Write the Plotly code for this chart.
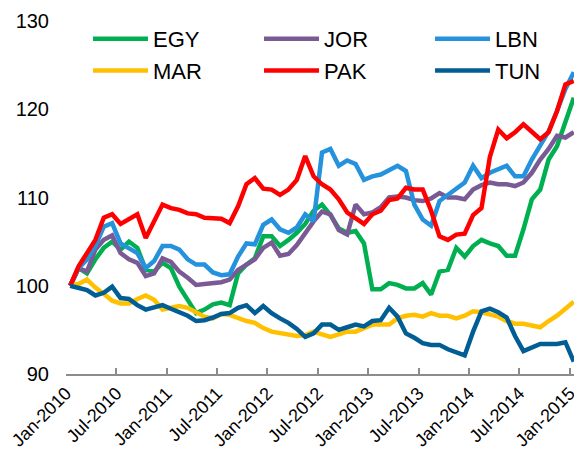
import plotly.graph_objects as go
import pandas as pd

months = [d.strftime("%b-%Y") for d in pd.date_range("2010-01-01", "2015-01-01", freq="MS")]
tick_labels = ["Jan-2010", "Jul-2010", "Jan-2011", "Jul-2011", "Jan-2012", "Jul-2012",
               "Jan-2013", "Jul-2013", "Jan-2014", "Jul-2014", "Jan-2015"]
y_ticks = [90, 100, 110, 120, 130]

EGY = [100, 102, 101.4, 103, 104.3, 105, 104.1, 105, 104.3, 101.8, 101.6, 102.6, 102, 99.9, 98.4,
       96.9, 97.3, 97.9, 98.1, 97.8, 101.4, 102.4, 103.1, 105.6, 105.6, 104.5, 105.2, 106, 107,
       108.5, 109.2, 108, 106.5, 106, 106.2, 104.8, 99.6, 99.6, 100.3, 100.1, 99.7, 99.7, 100.3, 99,
       101.6, 101.8, 104.3, 103.3, 104.5, 105.2, 104.8, 104.5, 103.4, 103.4, 106.4, 109.8, 110.9,
       114.3, 115.8, 118.7, 121.3]
JOR = [100, 102, 101.6, 104.1, 105.2, 105.7, 103.7, 103, 102.6, 101.1, 101.4, 103.1, 102.7, 101.6,
       100.9, 100.1, 100.2, 100.3, 100.4, 100.7, 101.8, 102.4, 103, 104.3, 104.9, 103.4, 103.6,
       104.6, 106, 107.3, 108.4, 108.1, 106.3, 105.8, 109.2, 108.1, 108.3, 108.9, 110, 110.1, 110,
       109.7, 109.6, 109.9, 110.5, 110, 110, 109.8, 110.9, 111.4, 111.7, 111.5, 111.5, 111.3, 111.7,
       112.8, 114.3, 115.5, 117, 116.8, 117.4]
LBN = [100, 102, 103, 104.5, 106.7, 107.1, 104.8, 104.3, 103.7, 102, 102.8, 104.5, 104.5, 104.1,
       103, 102.4, 102.4, 101.5, 101.2, 101.3, 103.3, 104.8, 104.7, 106.9, 107.5, 106.4, 106, 106.6,
       108.1, 107.3, 115.1, 115.5, 113.6, 114.2, 113.8, 112, 112.4, 112.6, 113.1, 113.6, 113, 109.2,
       107.5, 106.8, 109.6, 110.3, 111.1, 111.7, 113.6, 112.2, 112.8, 113.2, 113.6, 112.4, 112.4,
       114.3, 116, 117.5, 119.8, 122.3, 124.2]
MAR = [100, 100.2, 100.7, 99.8, 99.1, 98.3, 98, 98, 98.5, 98.9, 98.4, 97.3, 97.5, 97.7, 97.5, 97,
       96.5, 96.3, 96.8, 96.7, 96.3, 96, 95.8, 95.2, 94.8, 94.6, 94.5, 94.3, 94.4, 94.8, 94.5, 94.2,
       94.5, 94.8, 94.8, 95.2, 95.6, 95.6, 95.6, 96.3, 96.6, 96.7, 96.5, 96.9, 96.6, 96.6, 96.3,
       96.6, 97.1, 97.0, 96.8, 96.5, 96, 95.7, 95.7, 95.5, 95.3, 96, 96.6, 97.4, 98.2]
PAK = [100, 102.2, 103.7, 105.2, 107.7, 108.1, 107, 107.5, 108.1, 105.4, 107.3, 109.2, 108.8,
       108.6, 108.2, 108.1, 107.7, 107.6, 107.6, 107.1, 109, 111.5, 112.2, 111, 110.9, 110.3, 110.9,
       112, 114.7, 112.4, 111.5, 110.9, 109.8, 108.3, 107.7, 107, 108.1, 108.5, 109.7, 109.9, 111.1,
       110.9, 110.9, 108.5, 105.6, 105.2, 105.8, 105.9, 108, 108.8, 114.6, 117.7, 116.7, 117.4,
       118.3, 117.4, 116.6, 117.4, 119.8, 122.8, 123.2]
TUN = [100, 99.7, 99.5, 98.9, 99.2, 99.9, 98.6, 98.5, 97.8, 97.3, 97.6, 97.8, 97.4, 97.0, 96.6,
       96.0, 96.1, 96.4, 96.8, 96.9, 97.5, 97.8, 96.9, 97.7, 96.9, 96.3, 95.8, 95.1, 94.2, 94.6,
       95.6, 95.6, 95.0, 95.3, 95.6, 95.4, 96.0, 96.1, 97.5, 96.5, 94.6, 94.1, 93.5, 93.3, 93.3,
       92.8, 92.4, 92.1, 94.8, 97.1, 97.4, 97.0, 96.4, 94.3, 92.6, 93.0, 93.4, 93.4, 93.4, 93.6, 91.4]

series = [
    ("EGY", EGY, "#00B050"),
    ("JOR", JOR, "#7A5A94"),
    ("LBN", LBN, "#2492DC"),
    ("MAR", MAR, "#FFC000"),
    ("PAK", PAK, "#FF0000"),
    ("TUN", TUN, "#005E94"),
]

# month index on a linear axis; ticks sit on the boundary before each labelled month
xpos = list(range(len(months)))
tick_pos = [months.index(t) - 0.5 for t in tick_labels]

fig = go.Figure()
for name, vals, color in series:
    fig.add_trace(go.Scatter(x=xpos, y=vals, mode="lines", name=name,
                             customdata=months,
                             hovertemplate="%{customdata}: %{y}<extra>" + name + "</extra>",
                             line=dict(color=color, width=4.5)))

# the page body has an 8px default margin, so the figure is drawn 8px smaller
fig.update_layout(
    width=574, height=459,
    margin=dict(l=58, r=4, t=13, b=93, autoexpand=False),
    plot_bgcolor="white", paper_bgcolor="white",
    font=dict(family="Liberation Sans, Arial, sans-serif", color="black"),
    showlegend=True,
    legend=dict(orientation="h", xref="paper", yref="paper",
                x=0.043, y=1.0085, xanchor="left", yanchor="top",
                font=dict(size=22, color="black"), itemwidth=55,
                entrywidth=101, entrywidthmode="pixels",
                bgcolor="rgba(0,0,0,0)"),
    xaxis=dict(range=[-0.5, len(months) - 0.5], tickmode="array", tickvals=tick_pos,
               ticktext=tick_labels, tickangle=-45, ticks="inside", ticklen=6,
               tickcolor="#8C8C8C", tickwidth=1.5, showline=True, linecolor="#8C8C8C",
               linewidth=1.5, showgrid=False, zeroline=False, ticklabeloverflow="allow",
               tickfont=dict(size=18, color="black")),
    yaxis=dict(range=[90, 130], tickmode="array", tickvals=y_ticks,
               showgrid=False, zeroline=False, showline=False, ticks="",
               tickfont=dict(size=20, color="black"), ticklabelstandoff=16),
)

fig.write_html("out.html")
